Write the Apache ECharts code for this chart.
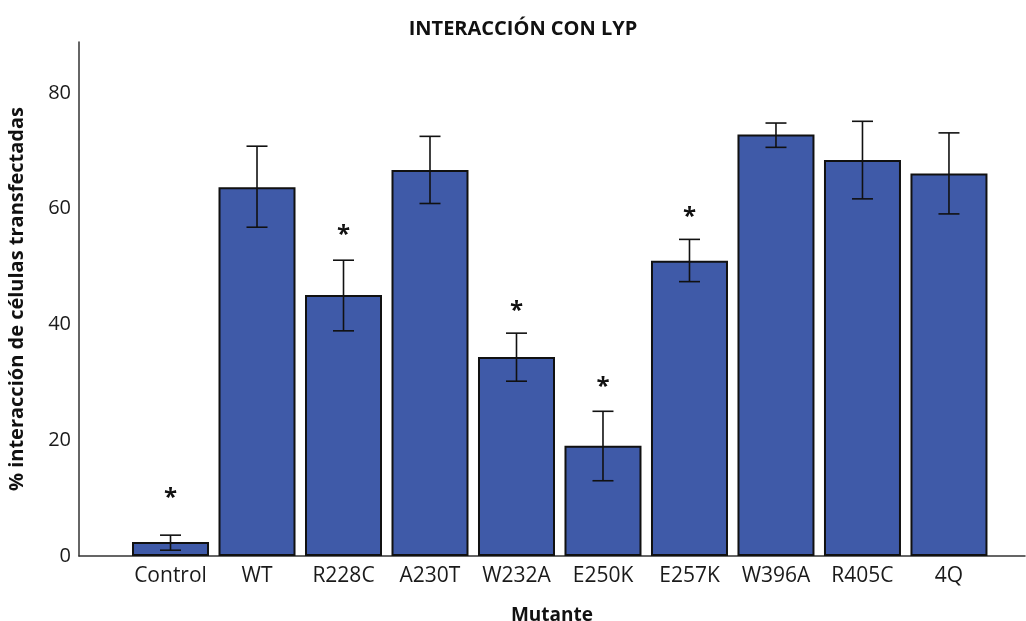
<!DOCTYPE html>
<html>
<head>
<meta charset="utf-8">
<script src="https://cdn.jsdelivr.net/npm/echarts@6/dist/echarts.min.js"></script>
<style>
html,body{margin:0;padding:0;background:#fff;}
#chart{width:1026px;height:621px;}
</style>
</head>
<body>
<div id="chart"></div>
<script>
const categories = ['Control','WT','R228C','A230T','W232A','E250K','E257K','W396A','R405C','4Q'];
const means = [2.4, 63.7, 45.1, 66.7, 34.4, 19.05, 51.0, 72.8, 68.4, 66.1];
const errLow = [1.0, 56.8, 38.9, 60.9, 30.2, 13.0, 47.4, 70.6, 61.7, 59.1];
const errHigh = [3.6, 70.8, 51.1, 72.5, 38.5, 25.0, 54.7, 74.8, 75.1, 73.1];
const starIdx = [0, 2, 4, 5, 6];
const starY = [11.0, 56.4, 43.3, 30.2, 59.5];
const yTicks = [0, 20, 40, 60, 80];

const FONT = '"Open Sans", "Noto Sans", sans-serif';
const chart = echarts.init(document.getElementById('chart'), null, {renderer: 'canvas'});

const barData = means.map((v, i) => [i, v]);
const errData = categories.map((c, i) => [i, errLow[i], errHigh[i]]);
const starData = starIdx.map((i, k) => [i, starY[k]]);

chart.setOption({
  animation: false,
  backgroundColor: '#fff',
  title: {
    text: 'INTERACCIÓN CON LYP',
    left: 518, top: 14, textAlign: 'center',
    textStyle: {fontFamily: FONT, fontWeight: 'bold', fontSize: 20, color: '#111'}
  },
  grid: {left: 79, right: 1, top: 42, bottom: 65, containLabel: false, outerBoundsMode: 'none'},
  xAxis: {
    type: 'value',
    min: -1.058, max: 9.879,
    name: 'Mutante', nameLocation: 'middle', nameGap: 50,
    nameTextStyle: {fontFamily: FONT, fontWeight: 'bold', fontSize: 19, color: '#111'},
    axisLine: {show: true, onZero: false, lineStyle: {color: '#333', width: 1.5}},
    axisTick: {show: false},
    splitLine: {show: false},
    axisLabel: {
      customValues: categories.map((c, i) => i),
      formatter: v => categories[Math.round(v)] || '',
      fontFamily: FONT, fontSize: 21, color: '#1a1a1a', margin: 10
    }
  },
  yAxis: {
    type: 'value',
    min: 0, max: 88.8,
    name: '% interacción de células transfectadas', nameLocation: 'middle', nameGap: 52,
    nameTextStyle: {fontFamily: FONT, fontWeight: 'bold', fontSize: 20, color: '#111'},
    axisLine: {show: true, onZero: false, lineStyle: {color: '#333', width: 1.5}},
    axisTick: {show: false},
    splitLine: {show: false},
    axisLabel: {
      customValues: yTicks,
      fontFamily: FONT, fontSize: 20, color: '#1a1a1a', margin: 8
    }
  },
  series: [
    {
      type: 'bar',
      data: barData,
      barWidth: 77,
      itemStyle: {color: '#3f5aa8', borderColor: '#111', borderWidth: 2}
    },
    {
      type: 'custom',
      data: errData,
      z: 5,
      renderItem: function (params, api) {
        const x = api.value(0);
        const lo = api.coord([x, api.value(1)]);
        const hi = api.coord([x, api.value(2)]);
        const hw = 10.5;
        const style = {stroke: '#111', lineWidth: 1.6};
        return {
          type: 'group',
          children: [
            {type: 'line', shape: {x1: lo[0], y1: lo[1], x2: hi[0], y2: hi[1]}, style: style},
            {type: 'line', shape: {x1: lo[0] - hw, y1: lo[1], x2: lo[0] + hw, y2: lo[1]}, style: style},
            {type: 'line', shape: {x1: hi[0] - hw, y1: hi[1], x2: hi[0] + hw, y2: hi[1]}, style: style}
          ]
        };
      }
    },
    {
      type: 'custom',
      data: starData,
      z: 6,
      renderItem: function (params, api) {
        const p = api.coord([api.value(0), api.value(1)]);
        return {
          type: 'text',
          x: p[0], y: p[1] + 6,
          style: {text: '*', fontFamily: FONT, fontSize: 24, fontWeight: 'bold', fill: '#111', align: 'center', verticalAlign: 'middle'}
        };
      }
    }
  ]
});
</script>
</body>
</html>
